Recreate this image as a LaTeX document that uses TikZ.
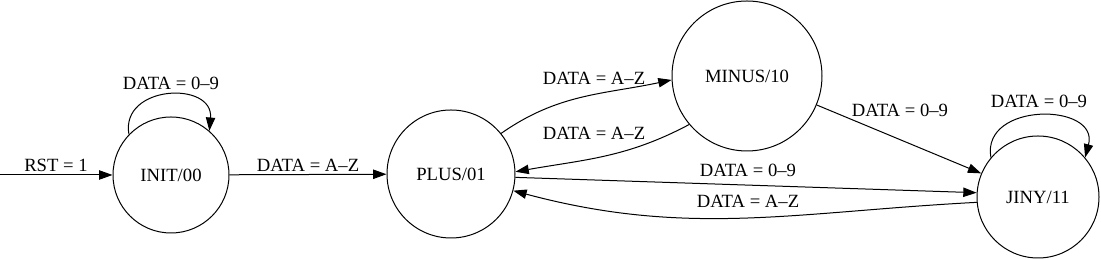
\documentclass[tikz,border=0pt]{standalone}
\usepackage{fontspec}
\setmainfont{Liberation Serif}
\usetikzlibrary{arrows.meta}
\tikzset{
    state/.style={draw, circle, inner sep=0pt, line width=0.75pt, font=\fontsize{14}{16}\selectfont},
    trans/.style={-{Triangle[length=10pt,width=7pt]}, line width=0.75pt},
    lbl/.style={font=\fontsize{14}{16}\selectfont, inner sep=0pt},
}
\begin{document}
\begin{tikzpicture}[x=0.75pt, y=0.75pt]
\useasboundingbox (0,0) rectangle (1101,259);
% states
\node[state, minimum size=87pt]    (init)  at (171,84)   {INIT/00};
\node[state, minimum size=96pt]    (plus)  at (451,85)   {PLUS/01};
\node[state, minimum size=112.5pt] (minus) at (747,183)  {MINUS/10};
\node[state, minimum size=91.5pt]  (jiny)  at (1038,62)  {JINY/11};
\coordinate (rst) at (0,84);
% transitions
\draw[trans] (rst) -- (init);
\draw[trans] (init.136) to[out=100, in=85, looseness=1.6] (init.49);
\draw[trans] (init) -- (plus);
\draw[trans] (plus.39) to[out=35, in=192] (minus.183);
\draw[trans] (minus.220) to[out=208, in=10] (plus.2);
\draw[trans] (plus.-3) -- (jiny.176);
\draw[trans] (jiny.185) to[out=183, in=-15] (plus.-15);
\draw[trans] (minus) -- (jiny);
\draw[trans] (jiny.140) to[out=100, in=75, looseness=1.55] (jiny.40);
% labels
\node[lbl] (l-rst)   at (56,94)   {RST = 1};
\node[lbl] (l-ii)    at (171,176) {DATA = 0–9};
\node[lbl] (l-ip)    at (308,94)  {DATA = A–Z};
\node[lbl] (l-pm)    at (594,181) {DATA = A–Z};
\node[lbl] (l-mp)    at (594,126) {DATA = A–Z};
\node[lbl] (l-pj)    at (748,89)  {DATA = 0–9};
\node[lbl] (l-jp)    at (748,58)  {DATA = A–Z};
\node[lbl] (l-mj)    at (900,149) {DATA = 0–9};
\node[lbl] (l-jj)    at (1039,158) {DATA = 0–9};
\end{tikzpicture}
\end{document}
